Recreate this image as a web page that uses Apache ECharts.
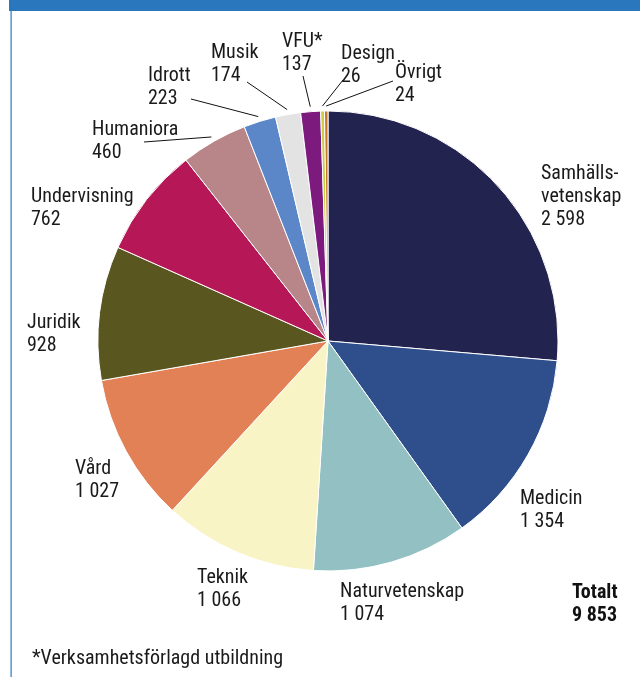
<!DOCTYPE html>
<html>
<head>
<meta charset="utf-8">
<script src="https://cdn.jsdelivr.net/npm/echarts@6/dist/echarts.min.js"></script>
<style>
  html, body { margin: 0; padding: 0; background: #fff; }
  #main { width: 640px; height: 677px; }
</style>
</head>
<body>
<div id="main"></div>
<script>
// studenter per utbildningsområde
var categories = ['Samhällsvetenskap', 'Medicin', 'Naturvetenskap', 'Teknik', 'Vård', 'Juridik',
  'Undervisning', 'Humaniora', 'Idrott', 'Musik', 'VFU*', 'Design', 'Övrigt'];
var values = [2598, 1354, 1074, 1066, 1027, 928, 762, 460, 223, 174, 137, 26, 24];
var total = 9853;

var colors = ['#232350', '#2e4f8b', '#93c1c3', '#f8f4c6', '#e28156', '#5a561f', '#b61756',
  '#b88588', '#5b87c9', '#e3e3e3', '#7d1a7e', '#c9cf3e', '#c8782a'];

// label top-left corners, and where a leader line should end (null = no line)
var labelPos = [[541, 162], [520, 487], [340, 580], [197, 566], [75, 457], [27, 311], [31, 185],
  [92, 118], [148, 64], [211, 41], [282, 30], [341, 42], [395, 61]];
var lineEnd = [null, null, null, null, null, null, null,
  [144, 142], [191, 99], [247, 82], [303, 76], [343, 80], [393, 81]];

var font = '"Roboto Condensed", "Open Sans", sans-serif';

function fmt(v) {
  var s = String(v);
  return s.length > 3 ? s.slice(0, s.length - 3) + ' ' + s.slice(-3) : s;
}

var chart = echarts.init(document.getElementById('main'));
var cx = 328, cy = 341;

var option = {
  animation: false,
  color: colors,
  title: [{
    text: 'Totalt\n' + fmt(total),
    left: 567, top: 576,
    textStyle: { fontFamily: font, fontSize: 20, fontWeight: 'bold', color: '#111', lineHeight: 23 }
  }, {
    text: '*Verksamhetsförlagd utbildning',
    left: 27, top: 642,
    textStyle: { fontFamily: font, fontSize: 20, fontWeight: 'normal', color: '#1a1a1a', lineHeight: 23 }
  }],
  graphic: [
    { type: 'rect', shape: { x: 9, y: 0, width: 631, height: 11 }, style: { fill: '#2b77bd' } },
    { type: 'rect', shape: { x: 10.5, y: 0, width: 1.2, height: 677 }, style: { fill: '#2b77bd' } }
  ],
  series: [{
    type: 'pie',
    center: [cx, cy],
    radius: 230,
    startAngle: 90,
    clockwise: true,
    avoidLabelOverlap: false,
    itemStyle: { borderColor: '#fff', borderWidth: 1 },
    label: {
      show: true,
      position: 'outside',
      fontFamily: font,
      fontSize: 20,
      lineHeight: 23,
      color: '#1a1a1a',
      formatter: function (p) {
        var n = p.name === 'Samhällsvetenskap' ? 'Samhälls-\nvetenskap' : p.name;
        return n + '\n' + fmt(p.value);
      }
    },
    labelLine: { lineStyle: { color: '#111', width: 1 } },
    labelLayout: function (p) {
      var i = p.dataIndex;
      var out = { x: labelPos[i][0], y: labelPos[i][1], align: 'left', verticalAlign: 'top' };
      if (lineEnd[i] && p.labelLinePoints) {
        var s = p.labelLinePoints[0];
        var dx = s[0] - cx, dy = s[1] - cy, d = Math.sqrt(dx * dx + dy * dy);
        var start = [s[0] + dx / d * 5, s[1] + dy / d * 5];
        out.labelLinePoints = [start, lineEnd[i], lineEnd[i]];
      }
      return out;
    },
    data: categories.map(function (c, i) {
      return { name: c, value: values[i], labelLine: { show: !!lineEnd[i] } };
    })
  }]
};

chart.setOption(option);
</script>
</body>
</html>
